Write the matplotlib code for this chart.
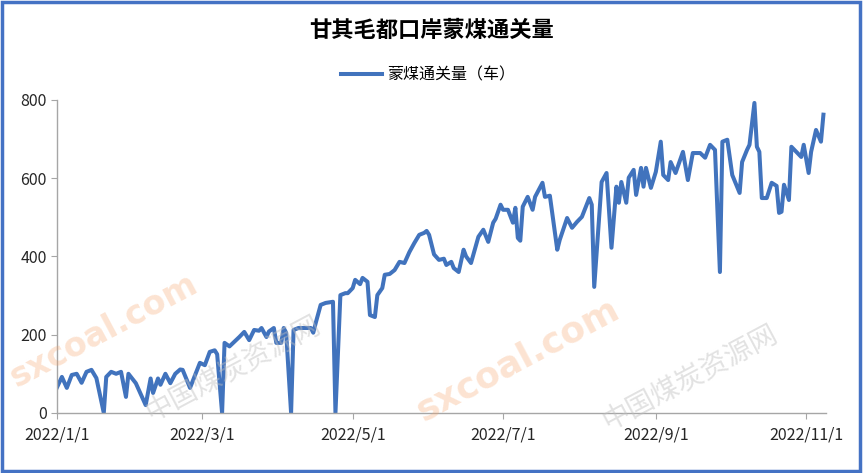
import numpy as np
import pandas as pd
import matplotlib
matplotlib.use('Agg')
import matplotlib.pyplot as plt
from matplotlib.patches import Rectangle

plt.rcParams['font.family'] = ['Noto Sans CJK SC', 'DejaVu Sans']

title = '甘其毛都口岸蒙煤通关量'
series_name = '蒙煤通关量（车）'

# days after 2022/1/1 and the daily clearance count
day_offset = [0, 2, 4, 6, 8, 10, 12, 14, 16, 19, 20, 22, 24, 26, 28, 29, 32, 36, 38, 39,
              41, 42, 44, 46, 48, 50, 51, 54, 58, 60, 62, 64, 65, 67, 68, 70, 72, 74, 76, 78,
              80, 82, 83, 85, 86, 88, 89, 91, 92, 93, 95, 96, 98, 100, 103, 104, 105, 107, 109, 112,
              113, 115, 117, 118, 120, 121, 123, 124, 126, 127, 129, 130, 132, 133, 135, 137, 139, 141, 143, 145,
              147, 149, 150, 151, 153, 155, 157, 158, 160, 161, 163, 165, 166, 168, 171, 173, 175, 177, 178, 180,
              181, 183, 185, 186, 187, 188, 189, 191, 193, 194, 197, 198, 200, 203, 204, 207, 209, 211, 213, 216,
              217, 218, 221, 223, 225, 227, 228, 229, 231, 232, 234, 235, 237, 238, 239, 241, 243, 245, 246, 248,
              249, 251, 254, 256, 258, 261, 263, 265, 267, 269, 270, 272, 274, 277, 278, 280, 281, 283, 284, 285,
              286, 288, 290, 292, 293, 294, 295, 297, 298, 302, 303, 305, 306, 308, 310, 311]
trucks = [65, 92, 64, 97, 100, 77, 105, 110, 89, 0, 92, 105, 100, 105, 41, 100, 76, 20, 88, 51,
          88, 72, 100, 76, 100, 111, 110, 64, 128, 122, 156, 160, 150, 0, 179, 170, 182, 194, 207, 186,
          212, 210, 217, 194, 208, 217, 179, 179, 217, 205, 0, 212, 217, 217, 217, 205, 230, 276, 281, 284,
          0, 301, 306, 306, 319, 340, 329, 345, 335, 250, 245, 301, 319, 353, 355, 365, 386, 383, 411, 434,
          455, 460, 465, 455, 405, 391, 394, 378, 386, 370, 360, 417, 400, 383, 450, 468, 437, 486, 496, 532,
          519, 519, 486, 524, 447, 440, 527, 552, 519, 552, 588, 552, 555, 417, 442, 498, 473, 488, 501, 549,
          532, 322, 590, 613, 422, 578, 537, 590, 537, 601, 621, 557, 626, 578, 626, 575, 616, 693, 608, 595,
          641, 613, 667, 595, 664, 664, 652, 685, 672, 360, 693, 698, 608, 562, 641, 672, 685, 792, 680, 667,
          549, 549, 588, 580, 511, 514, 583, 544, 680, 654, 685, 613, 667, 723, 693, 762]

tick_dates = ['2022-01-01', '2022-03-01', '2022-05-01', '2022-07-01', '2022-09-01', '2022-11-01']
tick_labels = ['2022/1/1', '2022/3/1', '2022/5/1', '2022/7/1', '2022/9/1', '2022/11/1']
y_ticks = [0, 200, 400, 600, 800]

dates = pd.Timestamp('2022-01-01') + pd.to_timedelta(day_offset, unit='D')

fig = plt.figure(figsize=(8.63, 4.73), dpi=100)
ax = fig.add_axes([0.066, 0.127, 0.891, 0.662])

blue = '#4173BD'
ax.plot(dates, trucks, color=blue, lw=2.9, label=series_name, solid_joinstyle='round')

ax.set_xlim(pd.Timestamp('2022-01-01'), pd.Timestamp('2022-11-09'))
ax.set_ylim(0, 800)
ax.set_xticks(pd.to_datetime(tick_dates))
ax.set_xticklabels(tick_labels)
ax.set_yticks(y_ticks)

for s in ['top', 'right']:
    ax.spines[s].set_visible(False)
for s in ['left', 'bottom']:
    ax.spines[s].set_color('#a6a6a6')
    ax.spines[s].set_linewidth(1.0)
ax.tick_params(axis='both', colors='#a6a6a6', labelcolor='#262626', labelsize=11.5, length=4)
ax.tick_params(axis='x', pad=6)

fig.text(0.5, 0.935, title, ha='center', va='center', fontsize=16, fontweight='bold', color='#000000')
fig.legend(loc='center', bbox_to_anchor=(0.496, 0.842), frameon=False, fontsize=11.5,
           handlelength=2.6, handletextpad=0.3)

# faint watermarks
wm = dict(rotation=28, ha='center', va='center', zorder=0)
fig.text(0.6, 0.24, 'sxcoal.com', fontsize=26, fontweight='bold', color='#f7a46b',
         alpha=0.3, family='DejaVu Sans', **wm)
fig.text(0.12, 0.3, 'sxcoal.com', fontsize=24, fontweight='bold', color='#f7a46b',
         alpha=0.3, family='DejaVu Sans', **wm)
fig.text(0.8, 0.2, '中国煤炭资源网', fontsize=20, color='#bfbfbf', alpha=0.45, **wm)
fig.text(0.27, 0.22, '中国煤炭资源网', fontsize=20, color='#bfbfbf', alpha=0.45, **wm)

fig.patches.append(Rectangle((0.002, 0.004), 0.994, 0.992, transform=fig.transFigure,
                             fill=False, edgecolor='#4472C4', lw=2.5))

fig.savefig('out.png', dpi=100)
